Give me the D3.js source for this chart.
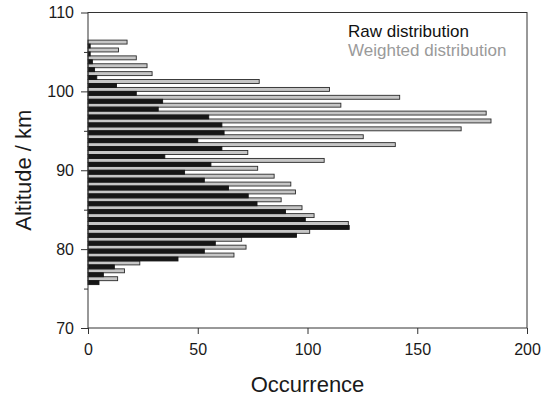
<!DOCTYPE html>
<html>
<head>
<meta charset="utf-8">
<script src="https://cdn.jsdelivr.net/npm/d3@7"></script>
<style>
  html, body { margin: 0; padding: 0; background: #fff; }
  svg { display: block; font-family: "Liberation Sans", Arial, sans-serif; }
</style>
</head>
<body>
<script>
const WIDTH = 548
const HEIGHT = 397

// Data (altitude bins in km, bottom to top)
const altitudes = [76, 77, 78, 79, 80, 81, 82, 83, 84, 85, 86, 87, 88, 89, 90, 91,
  92, 93, 94, 95, 96, 97, 98, 99, 100, 101, 102, 103, 104, 105, 106]
const rawCounts = [5, 7, 12, 41, 53, 58, 95, 119, 99, 90, 77, 73, 64, 53, 44, 56,
  35, 61, 50, 62, 61, 55, 32, 34, 22, 13, 4, 3, 2, 1, 1]
const weightedCounts = [13.5, 16.6, 23.6, 66.5, 72, 70, 101, 118.6, 103, 97.5, 88, 94.5, 92.4, 84.8, 77.3, 107.6,
  72.8, 140, 125.4, 170, 183.6, 181.4, 115.2, 142, 110, 78, 29.2, 26.9, 22, 13.9, 17.8]
const xTicks = [0, 50, 100, 150, 200]
const yTicks = [70, 80, 90, 100, 110]
const yMinorTicks = [75, 85, 95, 105]
const legendLabels = ["Raw distribution", "Weighted distribution"]

// Constants
const margin = { top: 12.5, right: 21, bottom: 69, left: 88 }
const innerW = WIDTH - margin.left - margin.right
const innerH = HEIGHT - margin.top - margin.bottom

const x = d3.scaleLinear([0, 200], [margin.left, margin.left + innerW])
const y = d3.scaleLinear([70, 110], [margin.top + innerH, margin.top])

const svg = d3.select("body").append("svg")
  .attr("width", WIDTH)
  .attr("height", HEIGHT)
  .attr("viewBox", [0, 0, WIDTH, HEIGHT])

// Bars: weighted on the upper half of each bin, raw on the lower half
const bars = svg.append("g")
bars.selectAll("rect.weighted")
  .data(altitudes)
  .join("rect")
    .attr("class", "weighted")
    .attr("x", x(0))
    .attr("y", d => y(d + 0.5))
    .attr("width", (d, i) => x(weightedCounts[i]) - x(0))
    .attr("height", d => y(d) - y(d + 0.5))
    .attr("fill", "#c6c6c6")
    .attr("stroke", "#2a2a2a")
    .attr("stroke-width", 0.9)

bars.selectAll("rect.raw")
  .data(altitudes)
  .join("rect")
    .attr("class", "raw")
    .attr("x", x(0))
    .attr("y", d => y(d))
    .attr("width", (d, i) => x(rawCounts[i]) - x(0))
    .attr("height", d => y(d - 0.5) - y(d))
    .attr("fill", "#161616")
    .attr("stroke", "#161616")
    .attr("stroke-width", 0.9)

// Axes
const xAxis = d3.axisBottom(x).tickValues(xTicks).tickSize(6).tickPadding(10)
const yAxis = d3.axisLeft(y).tickValues(yTicks).tickSize(7).tickPadding(7)

svg.append("g")
  .attr("transform", `translate(0,${margin.top + innerH})`)
  .call(xAxis)
  .call(g => g.select(".domain").remove())
  .call(g => g.selectAll(".tick line").attr("stroke", "#333"))
  .call(g => g.selectAll(".tick text").attr("font-size", 16).attr("fill", "#1a1a1a").attr("font-family", null))

svg.append("g")
  .attr("transform", `translate(${margin.left},0)`)
  .call(yAxis)
  .call(g => g.select(".domain").remove())
  .call(g => g.selectAll(".tick line").attr("stroke", "#333"))
  .call(g => g.selectAll(".tick text").attr("font-size", 16).attr("fill", "#1a1a1a").attr("font-family", null))

svg.append("g")
  .attr("transform", `translate(${margin.left},0)`)
  .call(d3.axisLeft(y).tickValues(yMinorTicks).tickSize(4).tickFormat(""))
  .call(g => g.select(".domain").remove())
  .call(g => g.selectAll(".tick line").attr("stroke", "#333"))

// Frame
svg.append("rect")
  .attr("x", x(0))
  .attr("y", y(110))
  .attr("width", x(200) - x(0))
  .attr("height", y(70) - y(110))
  .attr("fill", "none")
  .attr("stroke", "#333")
  .attr("stroke-width", 1)

// Axis titles
svg.append("text")
  .attr("x", (x(0) + x(200)) / 2)
  .attr("y", 392)
  .attr("text-anchor", "middle")
  .attr("font-size", 22)
  .attr("fill", "#1a1a1a")
  .text("Occurrence")

svg.append("text")
  .attr("transform", `translate(31,${(y(70) + y(110)) / 2}) rotate(-90)`)
  .attr("text-anchor", "middle")
  .attr("font-size", 22)
  .attr("fill", "#1a1a1a")
  .text("Altitude / km")

// Legend
svg.append("g")
  .selectAll("text")
  .data(legendLabels)
  .join("text")
    .attr("x", 348)
    .attr("y", (d, i) => 37 + i * 19)
    .attr("font-size", 17)
    .attr("fill", (d, i) => i ? "#9a9a9a" : "#111")
    .text(d => d)
</script>
</body>
</html>
